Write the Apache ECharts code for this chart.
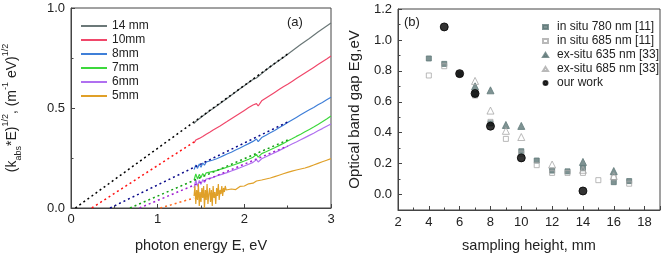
<!DOCTYPE html>
<html><head><meta charset="utf-8">
<script src="https://cdn.jsdelivr.net/npm/echarts@6/dist/echarts.min.js"></script>
<style>html,body{margin:0;padding:0;background:#fff}#c{width:662px;height:258px}</style>
</head><body><div id="c"></div><script>
// ---------- Panel (a) data ----------
const energy = [1.42,1.44,1.46,1.48,1.50,1.52,1.54,1.56,1.58,1.60,1.62,1.64,1.66,1.68,1.70,1.72,1.74,1.76,1.78,1.80,
  1.85,1.90,1.95,2.00,2.05,2.10,2.14,2.16,2.20,2.25,2.30,2.35,2.40,2.45,2.50,2.55,2.60,2.65,2.70,2.75,2.80,2.85,2.90,2.95,3.00];
const mm14 = [0.422,0.433,0.437,0.446,0.450,0.460,0.464,0.472,0.477,0.486,0.490,0.498,0.503,0.510,0.516,0.523,0.529,0.535,0.541,0.548,
  0.564,0.580,0.596,0.611,0.627,0.643,0.650,0.647,0.672,0.690,0.706,0.722,0.738,0.753,0.769,0.785,0.801,0.817,0.833,0.848,0.864,0.880,0.895,0.910,0.925];
const mm10 = [0.325,0.340,0.333,0.348,0.346,0.358,0.357,0.369,0.370,0.379,0.382,0.390,0.393,0.400,0.405,0.410,0.416,0.421,0.427,0.432,
  0.446,0.460,0.474,0.488,0.502,0.515,0.522,0.510,0.536,0.550,0.564,0.578,0.592,0.606,0.619,0.633,0.647,0.661,0.675,0.689,0.703,0.717,0.731,0.745,0.760];
const mm8 = [0.192,0.215,0.198,0.220,0.204,0.225,0.214,0.230,0.222,0.235,0.232,0.240,0.241,0.246,0.250,0.254,0.258,0.262,0.265,0.270,
  0.279,0.290,0.300,0.311,0.322,0.333,0.345,0.332,0.352,0.364,0.376,0.388,0.401,0.414,0.427,0.440,0.453,0.466,0.479,0.491,0.503,0.516,0.528,0.541,0.554];
const mm7 = [0.140,0.170,0.145,0.168,0.152,0.172,0.160,0.176,0.166,0.179,0.175,0.183,0.182,0.187,0.189,0.193,0.195,0.198,0.200,0.204,
  0.211,0.219,0.227,0.235,0.244,0.254,0.268,0.254,0.272,0.281,0.291,0.301,0.312,0.323,0.335,0.346,0.358,0.369,0.381,0.393,0.405,0.418,0.431,0.445,0.460];
const mm6 = [0.100,0.140,0.108,0.138,0.118,0.142,0.128,0.145,0.136,0.148,0.146,0.153,0.154,0.160,0.161,0.166,0.168,0.171,0.174,0.177,
  0.185,0.193,0.201,0.210,0.219,0.228,0.242,0.230,0.246,0.256,0.266,0.276,0.287,0.298,0.309,0.320,0.330,0.341,0.352,0.363,0.374,0.386,0.397,0.409,0.420];
const energy5 = [1.42,1.43,1.44,1.45,1.46,1.47,1.48,1.49,1.50,1.51,1.52,1.53,1.54,1.55,1.56,1.57,1.58,1.59,1.60,1.61,
  1.62,1.63,1.64,1.65,1.66,1.67,1.68,1.69,1.70,1.71,1.72,1.73,1.74,1.75,1.76,1.77,1.78,1.79,1.80,
  1.85,1.90,1.95,2.00,2.05,2.10,2.14,2.16,2.20,2.25,2.30,2.35,2.40,2.45,2.50,2.55,2.60,2.65,2.70,2.75,2.80,2.85,2.90,2.95,3.00];
const mm5 = [0.060,0.110,0.020,0.090,0.040,0.120,0.010,0.080,0.030,0.100,0.050,0.110,0.000,0.090,0.040,0.120,0.020,0.070,0.100,0.030,
  0.090,0.010,0.110,0.050,0.080,0.020,0.100,0.060,0.120,0.040,0.090,0.070,0.110,0.060,0.100,0.080,0.110,0.090,0.100,
  0.095,0.092,0.108,0.110,0.121,0.124,0.135,0.128,0.140,0.145,0.150,0.157,0.164,0.171,0.178,0.184,0.190,0.195,0.200,0.207,0.215,0.223,0.231,0.239,0.247];
// linear fits: [x-intercept, end energy, end value]
const fitE0  = [0.05, 0.24, 0.45, 0.68, 0.79, 1.03];
const fitE1  = [2.50, 1.42, 2.50, 2.50, 2.50, 1.42];
const fitV1  = [0.770, 0.330, 0.430, 0.340, 0.310, 0.050];
const seriesNames = ['14 mm','10mm','8mm','7mm','6mm','5mm'];
const xTicksA = [0, 1, 2, 3];
const yTicksA = [0, 0.5, 1.0];

// ---------- Panel (b) data ----------
const h780  = [4,5,6,7,8,10,11,12,13,14,16,17];
const eg780 = [0.88,0.845,0.78,0.65,0.46,0.28,0.22,0.155,0.15,0.17,0.08,0.087];
const h685  = [4,5,6,7,8,9,10,11,12,13,14,15,16,17];
const eg685 = [0.77,0.83,0.78,0.64,0.47,0.36,0.265,0.19,0.14,0.14,0.14,0.093,0.11,0.07];
const h635e  = [7,8,9,10,14,16];
const eg635e = [0.70,0.674,0.45,0.444,0.211,0.152];
const h685e  = [7,8,9,10,12,14,16];
const eg685e = [0.735,0.543,0.412,0.372,0.194,0.16,0.12];
const hOur  = [5,6,7,8,10,14];
const egOur = [1.084,0.782,0.653,0.442,0.237,0.023];
const legendB = ['in situ 780 nm [11]','in situ 685 nm [11]','ex-situ 635 nm [33]','ex-situ 685 nm [33]','our work'];

const dataColors = ['#6b7878','#f0476a','#3f7fd8','#3cd83c','#b070f0','#e0a028'];
const fitColors  = ['#000000','#ff1010','#0a0a8a','#12a012','#a020d0','#ff6a20'];

const FONT = 'Liberation Sans, Arial, sans-serif';
const TXT = '#222';
const AX = '#444';
const zip = (a, b) => a.map((v, i) => [v, b[i]]);

const series = [];
seriesNames.forEach((n, i) => {
  const ys = [mm14, mm10, mm8, mm7, mm6, mm5][i];
  const xs = i === 5 ? energy5 : energy;
  series.push({
    name: n, type: 'line', xAxisIndex: 0, yAxisIndex: 0, data: zip(xs, ys),
    showSymbol: false, symbol: 'none', lineStyle: {color: dataColors[i], width: 1.2},
    itemStyle: {color: dataColors[i]}, z: 2
  });
});
seriesNames.forEach((n, i) => {
  series.push({
    name: 'fit ' + n, type: 'line', xAxisIndex: 0, yAxisIndex: 0,
    data: [[fitE0[i], 0], [fitE1[i], fitV1[i]]],
    showSymbol: false, symbol: 'none', lineStyle: {color: fitColors[i], width: 1.5, type: [2, 3]}, z: 3
  });
});
const scat = (name, xs, ys, symbol, size, fill, border) => ({
  name, type: 'scatter', xAxisIndex: 1, yAxisIndex: 1, data: zip(xs, ys),
  symbol, symbolSize: size, itemStyle: {color: fill, borderColor: border, borderWidth: 1}
});
series.push(scat(legendB[0], h780, eg780, 'rect', 5, '#5f7878', '#5f7878'));
series.push(scat(legendB[1], h685, eg685, 'rect', 5, 'rgba(255,255,255,0)', '#a8a8a8'));
series.push(scat(legendB[2], h635e, eg635e, 'triangle', 7, '#5f7878', '#5f7878'));
series.push(scat(legendB[3], h685e, eg685e, 'triangle', 7, 'rgba(255,255,255,0)', '#a8a8a8'));
series.push(Object.assign(scat(legendB[4], hOur, egOur, 'circle', 8, '#000', '#000'), {z: 5}));

const axisCommon = {
  axisLine: {show: true, onZero: false, lineStyle: {color: AX, width: 1}},
  axisTick: {show: true, inside: true, length: 4, lineStyle: {color: AX}},
  minorTick: {show: true, splitNumber: 2, length: 2.5, lineStyle: {color: AX}},
  splitLine: {show: false},
  axisLabel: {color: TXT, fontFamily: FONT, fontSize: 13},
  nameTextStyle: {color: TXT, fontFamily: FONT, fontSize: 14.5}
};

const option = {
  animation: false,
  backgroundColor: '#fff',
  grid: [
    {left: 69, right: 331, top: 8, bottom: 47, show: true, borderColor: AX, borderWidth: 1},
    {left: 398, right: 2, top: 9, bottom: 45, show: true, borderColor: AX, borderWidth: 1}
  ],
  xAxis: [
    Object.assign({}, axisCommon, {
      gridIndex: 0, type: 'value', min: xTicksA[0], max: xTicksA[xTicksA.length - 1], interval: 1,
      axisLabel: Object.assign({}, axisCommon.axisLabel, {margin: 5}),
      name: 'photon energy E, eV', nameLocation: 'middle', nameGap: 30
    }),
    Object.assign({}, axisCommon, {
      gridIndex: 1, type: 'value', min: 2, max: 19, interval: 2,
      axisLabel: Object.assign({}, axisCommon.axisLabel, {margin: 6, showMaxLabel: false}),
      name: 'sampling height, mm', nameLocation: 'middle', nameGap: 28
    })
  ],
  yAxis: [
    Object.assign({}, axisCommon, {
      gridIndex: 0, type: 'value', min: yTicksA[0], max: yTicksA[yTicksA.length - 1], interval: 0.5,
      axisLabel: Object.assign({}, axisCommon.axisLabel, {margin: 6, formatter: v => v.toFixed(1)}),
      name: '{n|(k}{sub|abs}{n|*E)}{sup|1/2}{n|, (m}{sup|-1}{n| eV)}{sup|1/2}',
      nameLocation: 'middle', nameGap: 48, nameRotate: 90,
      nameTextStyle: {
        color: TXT, fontFamily: FONT, fontSize: 14,
        rich: {
          n: {fontFamily: FONT, fontSize: 14, color: TXT, lineHeight: 22, verticalAlign: 'middle'},
          sub: {fontFamily: FONT, fontSize: 9, color: TXT, verticalAlign: 'bottom', lineHeight: 9},
          sup: {fontFamily: FONT, fontSize: 9, color: TXT, verticalAlign: 'top', lineHeight: 9}
        }
      }
    }),
    Object.assign({}, axisCommon, {
      gridIndex: 1, type: 'value', min: -0.1, max: 1.2, splitNumber: 6,
      axisLabel: Object.assign({}, axisCommon.axisLabel, {margin: 6, showMinLabel: false, formatter: v => v.toFixed(1)}),
      name: 'Optical band gap Eg,eV', nameLocation: 'middle', nameGap: 36, nameRotate: 90,
      nameTextStyle: {color: TXT, fontFamily: FONT, fontSize: 15}
    })
  ],
  legend: [
    {
      orient: 'vertical', left: 76, top: 15, itemGap: 2, itemWidth: 26, itemHeight: 2, icon: 'rect',
      data: seriesNames, textStyle: {color: TXT, fontFamily: FONT, fontSize: 12}, selectedMode: false
    },
    {
      orient: 'vertical', left: 537, top: 16, itemGap: 2, itemWidth: 5, itemHeight: 4,
      data: legendB, textStyle: {color: TXT, fontFamily: FONT, fontSize: 12, padding: [0, 0, 0, 4]}, selectedMode: false
    }
  ],
  graphic: [
    {type: 'text', left: 287, top: 16, style: {text: '(a)', font: '13px ' + FONT, fill: TXT}},
    {type: 'text', left: 404, top: 16, style: {text: '(b)', font: '13px ' + FONT, fill: TXT}}
  ],
  series
};
const chart = echarts.init(document.getElementById('c'), null, {renderer: 'canvas'});
chart.setOption(option);
</script></body></html>
